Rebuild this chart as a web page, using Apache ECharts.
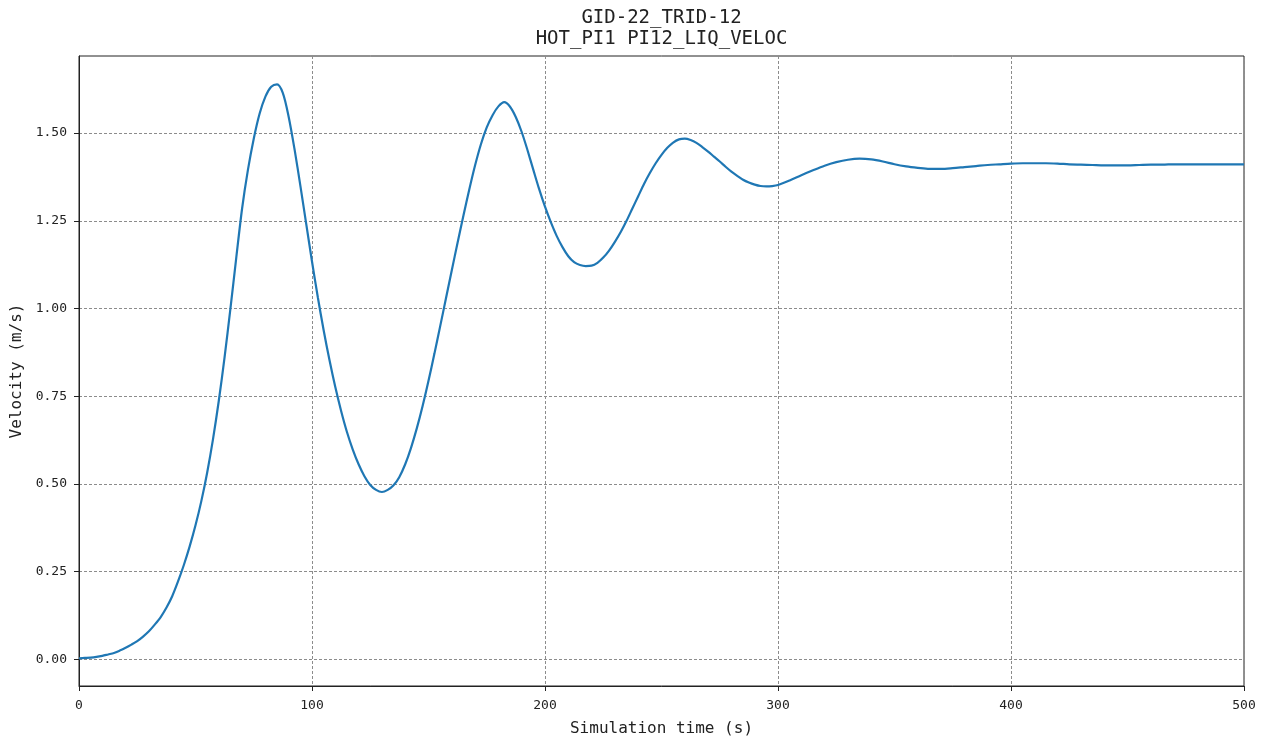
<!DOCTYPE html>
<html>
<head>
<meta charset="utf-8">
<title>GID-22_TRID-12 HOT_PI1 PI12_LIQ_VELOC</title>
<script src="https://cdn.jsdelivr.net/npm/echarts@6/dist/echarts.min.js"></script>
<style>
  html, body { margin: 0; padding: 0; background: #fff; }
  #chart { width: 1266px; height: 742px; }
</style>
</head>
<body>
<div id="chart"></div>
<script>
// values
const timeS = [
  0, 2.5, 5, 7.5, 10, 12.5, 15, 17.5, 20, 22.5,
  25, 27.5, 30, 32.5, 35, 37.5, 40, 42.5, 45, 47.5,
  50, 52.5, 55, 57.5, 60, 62.5, 65, 67.5, 70, 72.5,
  75, 77.5, 80, 82.5, 85, 87.5, 90, 92.5, 95, 97.5,
  100, 102.5, 105, 107.5, 110, 112.5, 115, 117.5, 120, 122.5,
  125, 127.5, 130, 132.5, 135, 137.5, 140, 142.5, 145, 147.5,
  150, 152.5, 155, 157.5, 160, 162.5, 165, 167.5, 170, 172.5,
  175, 177.5, 180, 182.5, 185, 187.5, 190, 192.5, 195, 197.5,
  200, 202.5, 205, 207.5, 210, 212.5, 215, 217.5, 220, 222.5,
  225, 227.5, 230, 232.5, 235, 237.5, 240, 242.5, 245, 247.5,
  250, 252.5, 255, 257.5, 260, 262.5, 265, 267.5, 270, 272.5,
  275, 277.5, 280, 282.5, 285, 287.5, 290, 292.5, 295, 297.5,
  300, 305, 310, 315, 320, 325, 330, 335, 340, 345,
  350, 355, 360, 365, 370, 375, 380, 385, 390, 395,
  400, 405, 410, 415, 420, 425, 430, 435, 440, 445,
  450, 455, 460, 465, 470, 475, 480, 485, 490, 495,
  500
];
const velocity = [
  0.003, 0.004, 0.005, 0.007, 0.010, 0.014, 0.018, 0.025, 0.033, 0.042,
  0.052, 0.065, 0.080, 0.099, 0.120, 0.147, 0.180, 0.222, 0.269, 0.322,
  0.382, 0.451, 0.532, 0.627, 0.737, 0.862, 1.000, 1.145, 1.285, 1.395,
  1.484, 1.555, 1.604, 1.632, 1.639, 1.614, 1.546, 1.454, 1.350, 1.242,
  1.134, 1.032, 0.938, 0.853, 0.776, 0.708, 0.648, 0.598, 0.556, 0.522,
  0.497, 0.483, 0.477, 0.483, 0.496, 0.520, 0.556, 0.603, 0.659, 0.723,
  0.794, 0.870, 0.949, 1.029, 1.109, 1.188, 1.265, 1.339, 1.408, 1.468,
  1.516, 1.551, 1.576, 1.588, 1.575, 1.545, 1.503, 1.451, 1.395, 1.340,
  1.290, 1.246, 1.207, 1.175, 1.149, 1.132, 1.124, 1.121, 1.122, 1.130,
  1.145, 1.165, 1.190, 1.218, 1.250, 1.285, 1.320, 1.355, 1.386, 1.414,
  1.438, 1.458, 1.473, 1.482, 1.484, 1.480, 1.472, 1.460, 1.447, 1.433,
  1.419, 1.404, 1.390, 1.378, 1.367, 1.359, 1.353, 1.349, 1.348, 1.349,
  1.352, 1.365, 1.380, 1.394, 1.407, 1.417, 1.424, 1.427, 1.425, 1.419,
  1.411, 1.405, 1.401, 1.398, 1.398, 1.400, 1.403, 1.406, 1.409, 1.411,
  1.413, 1.414, 1.414, 1.414, 1.413, 1.411, 1.410, 1.409, 1.408, 1.408,
  1.408, 1.409, 1.410, 1.410, 1.411, 1.411, 1.411, 1.411, 1.411, 1.411,
  1.411
];
const yTicks = [0, 0.25, 0.5, 0.75, 1.0, 1.25, 1.5];

const FONT = "'DejaVu Sans Mono', monospace";
const chart = echarts.init(document.getElementById("chart"), null, { renderer: "canvas" });

const option = {
  animation: false,
  backgroundColor: "#fff",
  grid: {
    left: 79,
    right: 22,
    top: 56,
    bottom: 54,
    show: true,
    borderColor: "#222",
    borderWidth: 1,
    backgroundColor: "#fff",
  },
  graphic: [
    {
      type: "text",
      x: 661.5,
      y: 18,
      style: {
        text: "GID-22_TRID-12",
        fontFamily: FONT,
        fontSize: 19,
        fill: "#222",
        align: "center",
        verticalAlign: "middle",
      },
    },
    {
      type: "text",
      x: 661.5,
      y: 39,
      style: {
        text: "HOT_PI1 PI12_LIQ_VELOC",
        fontFamily: FONT,
        fontSize: 19,
        fill: "#222",
        align: "center",
        verticalAlign: "middle",
      },
    },
  ],
  xAxis: {
    type: "value",
    min: 0,
    max: 500,
    interval: 100,
    name: "Simulation time (s)",
    nameLocation: "middle",
    nameGap: 35,
    nameTextStyle: { fontFamily: FONT, fontSize: 16, color: "#222" },
    axisLine: { show: true, onZero: false, lineStyle: { color: "#222", width: 1 } },
    axisTick: { show: true, inside: false, length: 5, lineStyle: { color: "#222" } },
    axisLabel: { fontFamily: FONT, fontSize: 13, color: "#222", margin: 13 },
    splitLine: { show: true, lineStyle: { color: "#8c8c8c", width: 1, type: [3, 2] } },
  },
  yAxis: {
    type: "value",
    min: -0.0759,
    max: 1.7196,
    name: "Velocity (m/s)",
    nameLocation: "middle",
    nameGap: 52,
    nameTextStyle: { fontFamily: FONT, fontSize: 16, color: "#222" },
    axisLine: { show: true, onZero: false, lineStyle: { color: "#222", width: 1 } },
    axisTick: { show: true, inside: false, length: 5, customValues: yTicks, lineStyle: { color: "#222" } },
    axisLabel: {
      fontFamily: FONT,
      fontSize: 13,
      color: "#222",
      margin: 12,
      customValues: yTicks,
      formatter: (v) => Number(v).toFixed(2),
    },
    splitLine: { show: true, lineStyle: { color: "#8c8c8c", width: 1, type: [3, 2] } },
  },
  series: [
    {
      type: "line",
      data: timeS.map((t, i) => [t, velocity[i]]),
      smooth: 0.3,
      showSymbol: false,
      symbol: "none",
      lineStyle: { color: "#1f77b4", width: 2.2 },
      z: 3,
    },
  ],
};

chart.setOption(option);
</script>
</body>
</html>
